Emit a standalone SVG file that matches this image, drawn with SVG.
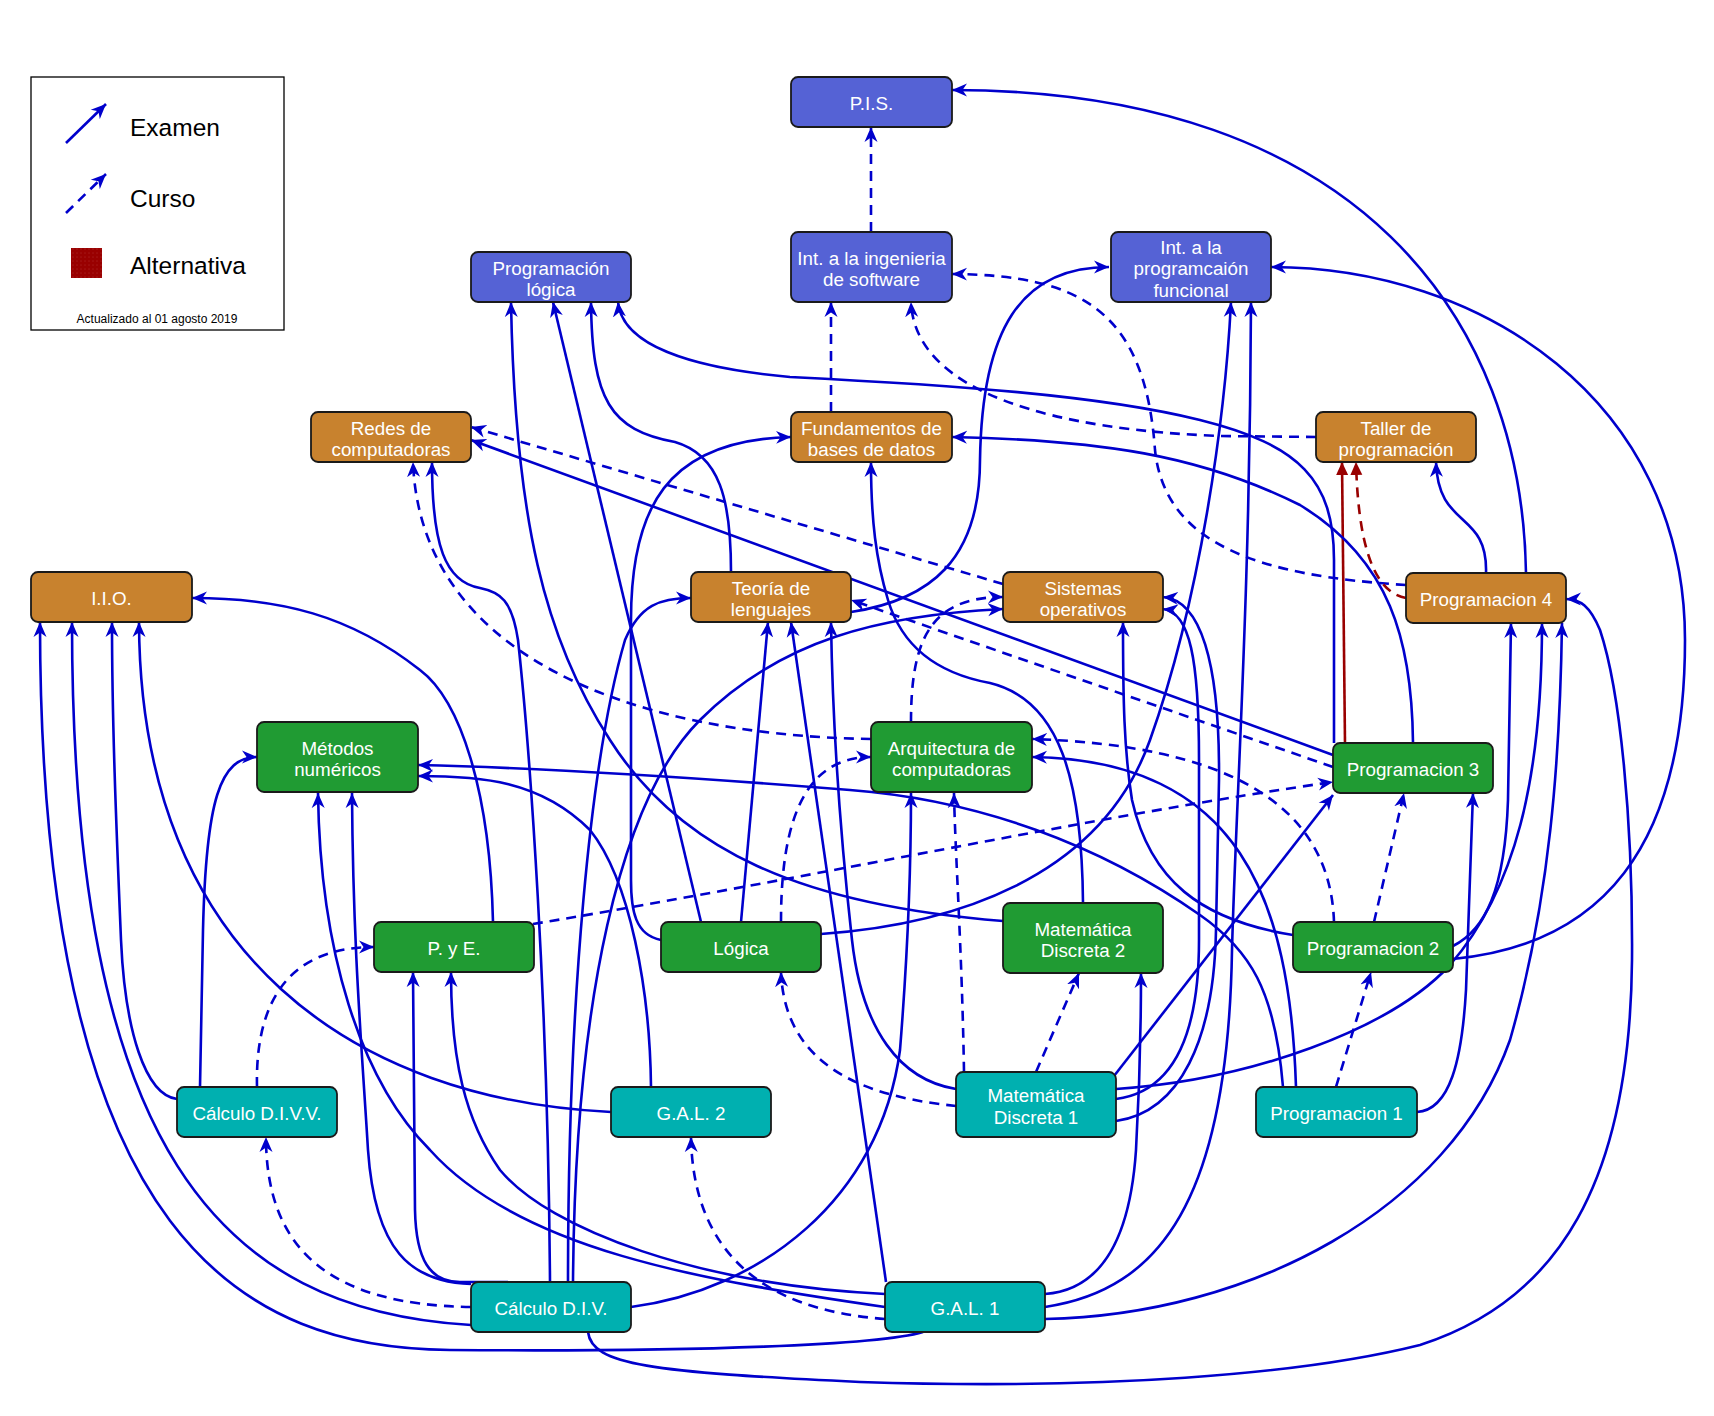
<svg xmlns="http://www.w3.org/2000/svg" width="1714" height="1416" viewBox="0 0 1714 1416">
<defs>
<style>
.e{fill:none;stroke:#0000CC;stroke-width:2.6;marker-end:url(#a)}
.d{stroke-dasharray:10 7}
.r{stroke:#990000;marker-end:url(#ar)}
.n rect{stroke:#1a1a1a;stroke-width:1.8}
.b rect{fill:#5562D5}
.o rect{fill:#C8822E}
.g rect{fill:#209B33}
.c rect{fill:#00B0B0}
.n text{font-family:"Liberation Sans",Arial,Helvetica,sans-serif;font-size:18.8px;fill:#fff;text-anchor:middle}
.l{font-family:"Liberation Sans",Arial,Helvetica,sans-serif;fill:#000;font-size:24.5px}
</style>
<marker id="a" viewBox="0 0 16 14" refX="15" refY="7" markerWidth="16" markerHeight="14" markerUnits="userSpaceOnUse" orient="auto"><path d="M0,0.5 L15,7 L0,13.5 L4.5,7 Z" fill="#0000CC"/></marker>
<marker id="ar" viewBox="0 0 14 14" refX="13" refY="7" markerWidth="14" markerHeight="14" markerUnits="userSpaceOnUse" orient="auto"><path d="M0,1 L13,7 L0,13 Z" fill="#990000"/></marker>
<pattern id="dots" width="4" height="4" patternUnits="userSpaceOnUse"><rect width="4" height="4" fill="#990000"/><circle cx="1" cy="1" r="0.45" fill="#c85a5a"/></pattern>
</defs>
<rect width="1714" height="1416" fill="#fff"/>

<g id="legend">
<rect x="31" y="77" width="253" height="253" fill="#fff" stroke="#000" stroke-width="1.3"/>
<path class="e" d="M66,143 L106,104"/>
<path class="e d" d="M66,213 L106,174"/>
<rect x="71" y="248" width="31" height="30" fill="url(#dots)"/>
<text class="l" x="130" y="136">Examen</text>
<text class="l" x="130" y="207">Curso</text>
<text class="l" x="130" y="274">Alternativa</text>
<text class="l" x="157" y="323" style="font-size:12px" text-anchor="middle">Actualizado al 01 agosto 2019</text>
</g>

<g id="connectors">
<path class="e d" d="M871,232 L871,127"/>
<path class="e d" d="M831,412 L831,302"/>
<path class="e d" d="M1316,437 L1220,436 C1060,430 915,395 911,302"/>
<path class="e d" d="M1406,585 C1260,576 1165,545 1155,450 C1145,310 1080,275 952,274"/>
<path class="e d" d="M1003,584 L471,427"/>
<path class="e d" d="M871,739 C620,735 420,650 413,462"/>
<path class="e d" d="M1333,767 L851,600"/>
<path class="e d" d="M911,722 C911,640 930,597 1003,597"/>
<path class="e d" d="M781,922 C781,830 800,757 871,757"/>
<path class="e d" d="M1334,922 C1330,800 1220,745 1032,739"/>
<path class="e d" d="M533,924 C800,880 1100,815 1333,782"/>
<path class="e d" d="M257,1087 C255,1000 290,947 374,947"/>
<path class="e d" d="M471,1307 C330,1305 266,1250 266,1137"/>
<path class="e d" d="M885,1319 C760,1310 693,1250 691,1137"/>
<path class="e d" d="M964,1072 C962,950 955,850 954,793"/>
<path class="e d" d="M1036,1072 L1079,973"/>
<path class="e d" d="M956,1106 C880,1098 785,1075 781,972"/>
<path class="e d" d="M1336,1087 L1371,972"/>
<path class="e d" d="M1374,922 L1404,793"/>
<path class="e d r" d="M1406,598 C1372,592 1358,540 1356,462"/>
<path class="e r" d="M1345,743 L1342,462"/>

<path class="e" d="M1526,573 C1522,320 1360,90 952,90"/>
<path class="e" d="M1453,959 C1600,945 1685,850 1685,640 C1685,400 1480,267 1271,267"/>
<path class="e" d="M1334,743 L1334,560 C1334,480 1300,445 1200,420 C1100,395 950,385 790,377 C690,368 622,345 618,302"/>
<path class="e" d="M1413,743 C1412,640 1390,560 1300,505 C1200,455 1100,440 952,437"/>
<path class="e" d="M1333,755 L471,440"/>
<path class="e" d="M1486,573 C1488,510 1438,530 1436,462"/>
<path class="e" d="M851,612 C930,600 980,560 980,460 C982,330 1020,267 1109,267"/>
<path class="e" d="M821,934 C950,925 1100,880 1150,740 C1200,600 1225,420 1231,302"/>
<path class="e" d="M1045,1307 C1160,1290 1228,1200 1232,950 C1236,800 1250,600 1251,302"/>
<path class="e" d="M573,1282 C575,1000 620,800 700,720 C780,640 880,615 1003,609"/>
<path class="e" d="M568,1282 C568,1000 590,760 625,640 C640,605 660,598 691,598"/>
<path class="e" d="M550,1282 C548,1000 530,750 518,640 C512,600 500,592 480,588 C445,582 432,545 432,462"/>
<path class="e" d="M508,1282 L460,1282 C430,1282 416,1260 415,1210 L413,972"/>
<path class="e" d="M471,1284 C410,1282 375,1250 368,1150 C362,1050 353,950 352,793"/>
<path class="e" d="M471,1325 C220,1310 72,1150 72,622"/>
<path class="e" d="M923,1332 C880,1345 700,1352 450,1350 C250,1348 40,1250 40,622"/>
<path class="e" d="M177,1099 C145,1095 125,1030 121,940 C116,820 112,720 112,622"/>
<path class="e" d="M611,1112 C360,1100 140,960 139,622"/>
<path class="e" d="M200,1087 L203,930 C206,800 220,757 257,757"/>
<path class="e" d="M885,1307 C700,1280 520,1250 430,1150 C360,1080 320,950 318,793"/>
<path class="e" d="M885,1294 C700,1285 550,1230 500,1170 C465,1120 451,1060 451,972"/>
<path class="e" d="M651,1087 C650,990 630,880 590,830 C540,780 480,776 418,776"/>
<path class="e" d="M1283,1087 C1275,990 1250,950 1200,915 C1100,845 980,800 850,790 C700,778 550,768 418,765"/>
<path class="e" d="M1296,1087 C1290,900 1240,760 1032,757"/>
<path class="e" d="M631,1307 C760,1290 880,1200 900,1050 C908,950 911,850 911,793"/>
<path class="e" d="M1003,921 C800,905 680,850 610,740 C545,640 515,520 511,302"/>
<path class="e" d="M701,922 L553,302"/>
<path class="e" d="M731,572 C731,500 720,455 675,442 C610,430 592,400 591,302"/>
<path class="e" d="M741,922 L768,622"/>
<path class="e" d="M886,1282 L791,622"/>
<path class="e" d="M956,1089 C900,1080 862,1030 852,940 C842,850 833,750 831,622"/>
<path class="e" d="M661,940 C635,935 631,910 631,880 L631,620 C631,510 665,440 791,437"/>
<path class="e" d="M1083,903 C1082,780 1060,700 990,683 C930,672 900,640 888,600 C876,560 871,520 871,462"/>
<path class="e" d="M1114,1076 L1333,795"/>
<path class="e" d="M1116,1099 C1170,1092 1199,1040 1199,940 L1199,760 C1199,660 1190,612 1163,609"/>
<path class="e" d="M1116,1121 C1180,1112 1214,1040 1216,930 L1219,780 C1220,660 1200,600 1163,597"/>
<path class="e" d="M1116,1089 C1250,1080 1390,1030 1450,965 C1515,890 1542,780 1542,623"/>
<path class="e" d="M1045,1294 C1100,1290 1130,1240 1136,1150 C1140,1080 1141,1020 1141,973"/>
<path class="e" d="M1045,1319 C1250,1315 1450,1210 1510,1040 C1550,900 1560,760 1562,623"/>
<path class="e" d="M1453,946 C1485,930 1505,890 1508,800 L1511,623"/>
<path class="e" d="M1293,935 C1200,920 1150,880 1132,800 C1124,750 1123,700 1123,622"/>
<path class="e" d="M1417,1112 C1450,1110 1462,1060 1466,990 L1473,793"/>
<path class="e" d="M588,1332 C592,1365 650,1372 860,1382 C1100,1390 1300,1375 1420,1345 C1560,1300 1630,1180 1632,960 C1633,820 1620,690 1600,630 C1590,606 1580,599 1566,599"/>
<path class="e" d="M493,922 C490,790 460,700 420,670 C350,615 280,598 192,598"/>
</g>

<g id="pis" class="n b"><rect x="791" y="77" width="161" height="50" rx="7"/><text x="871.5" y="110.3">P.I.S.</text></g>
<g id="iis" class="n b"><rect x="791" y="232" width="161" height="70" rx="7"/><text x="871.5" y="264.5">Int. a la ingenieria</text><text x="871.5" y="286.2">de software</text></g>
<g id="pl" class="n b"><rect x="471" y="252" width="160" height="50" rx="7"/><text x="551" y="274.5">Programación</text><text x="551" y="296.2">lógica</text></g>
<g id="ipf" class="n b"><rect x="1111" y="232" width="160" height="70" rx="7"/><text x="1191" y="253.6">Int. a la</text><text x="1191" y="275.3">programcaión</text><text x="1191" y="297">funcional</text></g>
<g id="rc" class="n o"><rect x="311" y="412" width="160" height="50" rx="7"/><text x="391" y="434.5">Redes de</text><text x="391" y="456.2">computadoras</text></g>
<g id="fbd" class="n o"><rect x="791" y="412" width="161" height="50" rx="7"/><text x="871.5" y="434.5">Fundamentos de</text><text x="871.5" y="456.2">bases de datos</text></g>
<g id="tp" class="n o"><rect x="1316" y="412" width="160" height="50" rx="7"/><text x="1396" y="434.5">Taller de</text><text x="1396" y="456.2">programación</text></g>
<g id="iio" class="n o"><rect x="31" y="572" width="161" height="50" rx="7"/><text x="111.5" y="605.3">I.I.O.</text></g>
<g id="tl" class="n o"><rect x="691" y="572" width="160" height="50" rx="7"/><text x="771" y="594.5">Teoría de</text><text x="771" y="616.2">lenguajes</text></g>
<g id="so" class="n o"><rect x="1003" y="572" width="160" height="50" rx="7"/><text x="1083" y="594.5">Sistemas</text><text x="1083" y="616.2">operativos</text></g>
<g id="p4" class="n o"><rect x="1406" y="573" width="160" height="50" rx="7"/><text x="1486" y="606.3">Programacion 4</text></g>
<g id="mn" class="n g"><rect x="257" y="722" width="161" height="70" rx="7"/><text x="337.5" y="754.5">Métodos</text><text x="337.5" y="776.2">numéricos</text></g>
<g id="ac" class="n g"><rect x="871" y="722" width="161" height="70" rx="7"/><text x="951.5" y="754.5">Arquitectura de</text><text x="951.5" y="776.2">computadoras</text></g>
<g id="p3" class="n g"><rect x="1333" y="743" width="160" height="50" rx="7"/><text x="1413" y="776.3">Programacion 3</text></g>
<g id="pye" class="n g"><rect x="374" y="922" width="160" height="50" rx="7"/><text x="454" y="955.3">P. y E.</text></g>
<g id="log" class="n g"><rect x="661" y="922" width="160" height="50" rx="7"/><text x="741" y="955.3">Lógica</text></g>
<g id="md2" class="n g"><rect x="1003" y="903" width="160" height="70" rx="7"/><text x="1083" y="935.5">Matemática</text><text x="1083" y="957.2">Discreta 2</text></g>
<g id="p2" class="n g"><rect x="1293" y="922" width="160" height="50" rx="7"/><text x="1373" y="955.3">Programacion 2</text></g>
<g id="cdivv" class="n c"><rect x="177" y="1087" width="160" height="50" rx="7"/><text x="257" y="1120.3">Cálculo D.I.V.V.</text></g>
<g id="gal2" class="n c"><rect x="611" y="1087" width="160" height="50" rx="7"/><text x="691" y="1120.3">G.A.L. 2</text></g>
<g id="md1" class="n c"><rect x="956" y="1072" width="160" height="65" rx="7"/><text x="1036" y="1102">Matemática</text><text x="1036" y="1123.7">Discreta 1</text></g>
<g id="p1" class="n c"><rect x="1256" y="1087" width="161" height="50" rx="7"/><text x="1336.5" y="1120.3">Programacion 1</text></g>
<g id="cdiv" class="n c"><rect x="471" y="1282" width="160" height="50" rx="7"/><text x="551" y="1315.3">Cálculo D.I.V.</text></g>
<g id="gal1" class="n c"><rect x="885" y="1282" width="160" height="50" rx="7"/><text x="965" y="1315.3">G.A.L. 1</text></g>
</svg>
